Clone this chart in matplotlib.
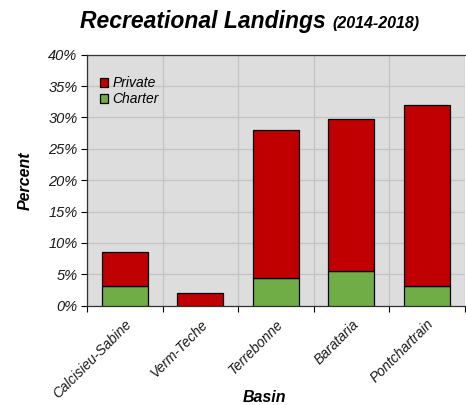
import matplotlib.pyplot as plt
import numpy as np
from matplotlib.ticker import FuncFormatter, MultipleLocator

# Data
basins = ['Calcisieu-Sabine', 'Verm-Teche', 'Terrebonne', 'Barataria', 'Pontchartrain']
charter = [3.1, 0.0, 4.4, 5.5, 3.1]
private = [5.4, 2.1, 23.6, 24.2, 28.9]

plt.rcParams['font.family'] = ['Liberation Sans', 'DejaVu Sans']

fig = plt.figure(figsize=(4.66, 4.05), dpi=100)
ax = fig.add_axes([0.187, 0.245, 0.81, 0.62])
ax.set_facecolor('#DDDDDD')

x = np.arange(len(basins))
ax.bar(x, charter, width=0.61, color='#70AD47', edgecolor='black', linewidth=0.9,
       label='Charter', zorder=3)
ax.bar(x, private, width=0.61, bottom=charter, color='#C00000', edgecolor='black',
       linewidth=0.9, label='Private', zorder=3)

ax.set_xlim(-0.5, len(basins) - 0.5)
ax.set_ylim(0, 40)
ax.yaxis.set_major_locator(MultipleLocator(5))
ax.yaxis.set_major_formatter(FuncFormatter(lambda v, p: f'{v:.0f}%'))

# category labels at centres, tick marks and grid at boundaries
ax.set_xticks(x)
ax.set_xticklabels(basins, rotation=45, ha='right', rotation_mode='anchor',
                   fontsize=10, style='italic', color='#1a1a1a')
ax.tick_params(axis='x', which='major', length=0, pad=8)
ax.set_xticks(np.arange(-0.5, len(basins)), minor=True)
ax.tick_params(axis='x', which='minor', length=4, width=0.8, direction='out')
ax.tick_params(axis='y', length=4, width=0.8, labelsize=10.5, labelcolor='#1a1a1a', pad=3)
for lab in ax.get_yticklabels():
    lab.set_style('italic')

ax.grid(True, axis='y', color='#C4C4C4', linewidth=0.9, zorder=0)
ax.grid(True, axis='x', which='minor', color='#C4C4C4', linewidth=0.9, zorder=0)
for s in ['top', 'left', 'bottom']:
    ax.spines[s].set_color('#333333')
    ax.spines[s].set_linewidth(0.9)
ax.spines['right'].set_visible(False)

ax.set_ylabel('Percent', fontsize=11.5, fontweight='bold', style='italic')
ax.yaxis.set_label_coords(-0.145, 0.5)
ax.set_xlabel('Basin', fontsize=11.5, fontweight='bold', style='italic')
ax.xaxis.set_label_coords(0.47, -0.335)

h, l = ax.get_legend_handles_labels()
leg = ax.legend(h[::-1], l[::-1], loc='upper left', bbox_to_anchor=(0.034, 0.915),
                frameon=False, prop={'style': 'italic', 'size': 10},
                handlelength=0.6, handleheight=0.6, handletextpad=0.3,
                labelspacing=0.15, borderaxespad=0, borderpad=0)

fig.text(0.698, 0.931, 'Recreational Landings', ha='right', va='baseline',
         fontsize=16.5, fontweight='bold', style='italic')
fig.text(0.714, 0.931, '(2014-2018)', ha='left', va='baseline',
         fontsize=11.5, fontweight='bold', style='italic')

fig.savefig('out.png', dpi=100)
